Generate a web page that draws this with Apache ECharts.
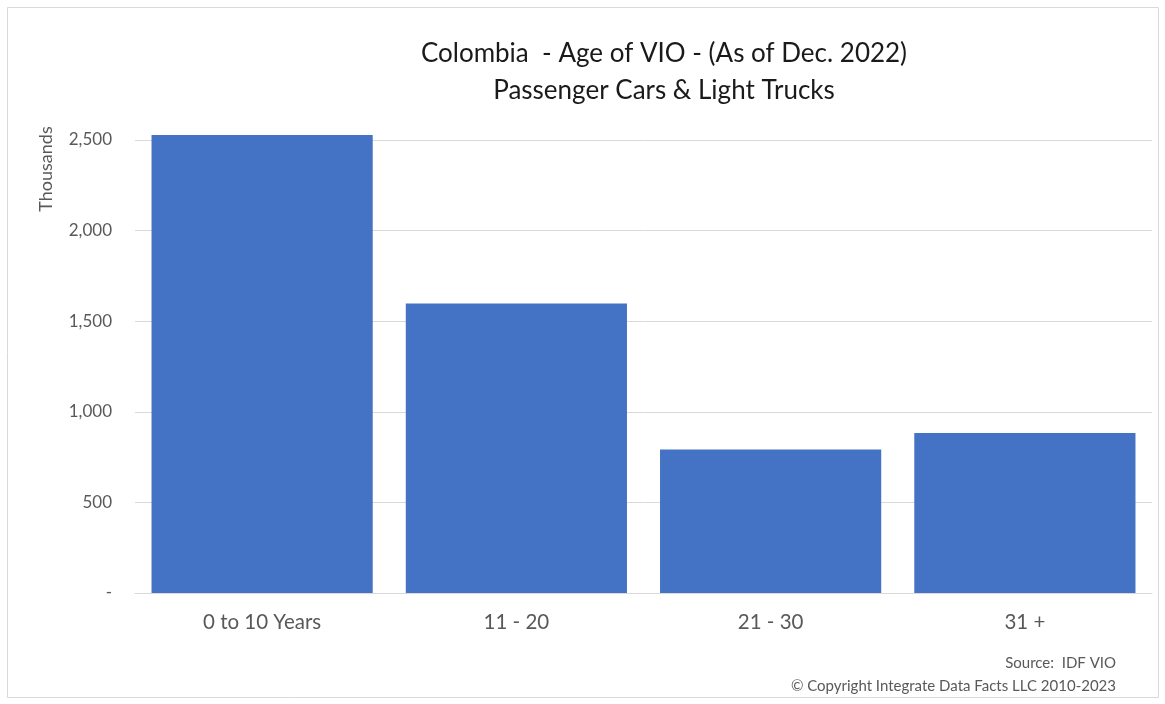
<!DOCTYPE html>
<html><head><meta charset="utf-8">
<script src="https://cdn.jsdelivr.net/npm/echarts@6/dist/echarts.min.js"></script>
<style>html,body{margin:0;padding:0;background:#fff}#c{width:1165px;height:704px}</style>
</head><body><div id="c"></div>
<script>
var categories = ['0 to 10 Years', '11 - 20', '21 - 30', '31 +'];
var values = [2527, 1597, 792, 883];
var titleLines = ['Colombia  - Age of VIO - (As of Dec. 2022)', 'Passenger Cars & Light Trucks'];
var yAxisName = 'Thousands';
var footer = ['Source:  IDF VIO', '\u00a9 Copyright Integrate Data Facts LLC 2010-2023'];
var font = 'Lato, "Open Sans", sans-serif';
var chart = echarts.init(document.getElementById('c'), null, {renderer: 'canvas'});
chart.setOption({
  backgroundColor: '#fff',
  animation: false,
  title: {
    text: titleLines.join('\n'),
    left: 659, top: 30, textAlign: 'center',
    textStyle: {fontFamily: font, fontSize: 26, fontWeight: 'normal', color: '#1a1a1a', lineHeight: 37}
  },
  grid: {left: 135, right: 13, top: 140, bottom: 111, containLabel: false},
  xAxis: {
    type: 'category', data: categories,
    axisLine: {show: true, lineStyle: {color: '#d9d9d9'}},
    axisTick: {show: false},
    axisLabel: {fontFamily: font, fontSize: 20.5, color: '#595959', margin: 19}
  },
  yAxis: {
    type: 'value', min: 0, max: 2500, interval: 500,
    axisLine: {show: false}, axisTick: {show: false},
    splitLine: {lineStyle: {color: '#d9d9d9', width: 1}},
    axisLabel: {
      fontFamily: font, fontSize: 17, color: '#595959', margin: 23,
      formatter: function (v) { return v === 0 ? '-' : v.toLocaleString('en-US'); }
    }
  },
  series: [{
    type: 'bar', data: values, barCategoryGap: '13%', clip: false,
    itemStyle: {color: '#4472c4'}
  }],
  graphic: [
    {type: 'rect', shape: {x: 7.5, y: 7.5, width: 1151, height: 690}, style: {fill: null, stroke: '#d9d9d9', lineWidth: 1}, silent: true, z: -1},
    {type: 'text', x: 46, y: 169, rotation: Math.PI / 2, style: {text: yAxisName, font: '18px ' + font, fill: '#595959', align: 'center', verticalAlign: 'middle'}},
    {type: 'text', right: 49, top: 656, style: {text: footer[0], font: '15px ' + font, fill: '#595959', textAlign: 'right'}},
    {type: 'text', right: 49, top: 679, style: {text: footer[1], font: '15px ' + font, fill: '#595959', textAlign: 'right'}}
  ]
});
</script></body></html>
